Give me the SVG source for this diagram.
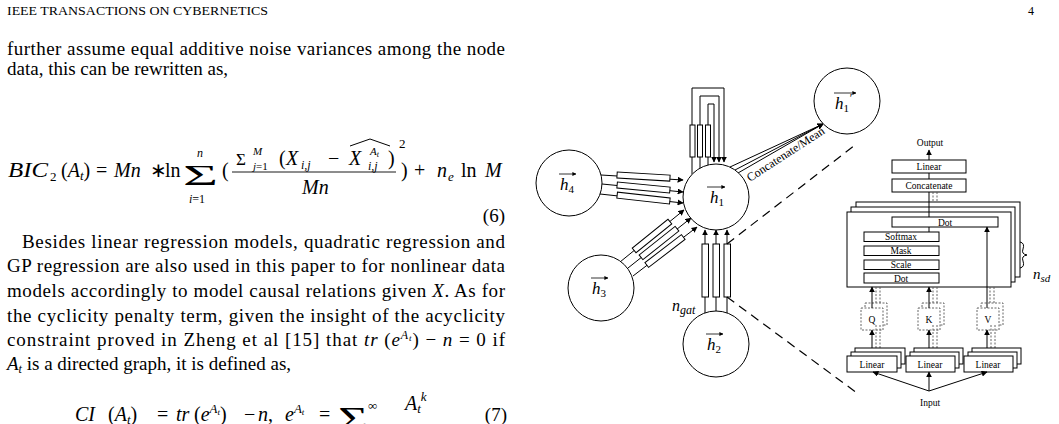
<svg xmlns="http://www.w3.org/2000/svg" width="1059" height="424" viewBox="0 0 1059 424">
<style>
text{font-family:"Liberation Serif","Times New Roman",serif;fill:#000}
.b{font-size:19px}
.m{font-size:20px}
.i{font-style:italic}
.hd{font-size:12px}
.lb{font-size:9.5px;text-anchor:middle}
.ln{stroke:#000;stroke-width:1;fill:none}
.bx{stroke:#000;stroke-width:1;fill:#fff}
.db{stroke:#555;stroke-width:0.9;fill:#fff;stroke-dasharray:2 1.5}
.dl{stroke:#555;stroke-width:0.9;fill:none;stroke-dasharray:2 1.5}
.dash{stroke:#000;stroke-width:1.2;fill:none;stroke-dasharray:9 6}
.nd{stroke:#000;stroke-width:1;fill:#fff}
.hl{font-size:17px;font-style:italic}
</style>
<defs>
<marker id="ah" viewBox="0 0 10 10" refX="9" refY="5" markerWidth="6" markerHeight="6" markerUnits="userSpaceOnUse" orient="auto"><path d="M0,0 L10,5 L0,10 z" fill="#000"/></marker>
<marker id="va" viewBox="0 0 10 10" refX="9" refY="5" markerWidth="4" markerHeight="4" markerUnits="userSpaceOnUse" orient="auto"><path d="M0,0 L10,5 L0,10 z" fill="#000"/></marker>
</defs>
<rect width="1059" height="424" fill="#fff"/>

<g id="page-text">
<text x="7" y="15" class="hd" textLength="261" lengthAdjust="spacingAndGlyphs">IEEE TRANSACTIONS ON CYBERNETICS</text>
<text x="1028" y="15" class="hd">4</text>
<text x="7" y="55" class="b" textLength="498" lengthAdjust="spacing">further assume equal additive noise variances among the node</text>
<text x="7" y="75" class="b">data, this can be rewritten as,</text>

<text x="8" y="177" class="m i" textLength="40" lengthAdjust="spacingAndGlyphs">BIC</text>
<text x="50" y="181" font-size="13">2</text>
<text x="61" y="177" class="m">(<tspan class="i">A</tspan><tspan font-size="13" dy="3" class="i">t</tspan><tspan dy="-3">)</tspan></text>
<text x="96" y="177" class="m">=</text>
<text x="114" y="177" class="m i">Mn</text>
<text x="150" y="177" class="m">∗</text>
<text x="165" y="177" class="m">ln</text>
<text x="183" y="185" font-size="30" textLength="35" lengthAdjust="spacingAndGlyphs">Σ</text>
<text x="197" y="157" font-size="12" class="i">n</text>
<text x="189" y="203" font-size="12"><tspan class="i">i</tspan>=1</text>
<text x="222" y="177" class="m">(</text>
<text x="236" y="165" font-size="17">Σ</text>
<text x="253" y="155" font-size="11" class="i">M</text>
<text x="253" y="170" font-size="11"><tspan class="i">j</tspan>=1</text>
<text x="279" y="165" class="m">(</text>
<text x="286" y="165" class="m i">X</text>
<text x="301" y="169" font-size="12" class="i">i,j</text>
<text x="328" y="165" class="m">−</text>
<text x="349" y="165" class="m i">X</text>
<text x="370" y="155" font-size="11" class="i">A<tspan font-size="8" dy="2">t</tspan></text>
<text x="368" y="170" font-size="12" class="i">i,j</text>
<text x="388" y="165" class="m">)</text>
<path d="M350,146 L370,139 L390,146" class="ln" stroke-width="0.9"/>
<text x="399" y="148" font-size="13">2</text>
<line x1="232" y1="172" x2="396" y2="172" stroke="#000" stroke-width="0.9"/>
<text x="302" y="194" class="m i">Mn</text>
<text x="401" y="177" class="m">)</text>
<text x="414" y="177" class="m">+</text>
<text x="437" y="177" class="m i">n</text>
<text x="448" y="181" font-size="13" class="i">e</text>
<text x="461" y="177" class="m">ln</text>
<text x="485" y="177" class="m i">M</text>
<text x="505" y="222" class="b" text-anchor="end">(6)</text>

<text x="22" y="248" class="b" textLength="483" lengthAdjust="spacing">Besides linear regression models, quadratic regression and</text>
<text x="7" y="272" class="b" textLength="498" lengthAdjust="spacing">GP regression are also used in this paper to for nonlinear data</text>
<text x="7" y="297" class="b" textLength="498" lengthAdjust="spacing">models accordingly to model causal relations given <tspan class="i">X</tspan>. As for</text>
<text x="7" y="322" class="b" textLength="498" lengthAdjust="spacing">the cyclicity penalty term, given the insight of the acyclicity</text>
<text x="7" y="346" class="b" textLength="498" lengthAdjust="spacing">constraint proved in Zheng et al [15] that <tspan class="i">tr</tspan> (<tspan class="i">e</tspan><tspan font-size="12" dy="-7" class="i">A</tspan><tspan font-size="9" dy="2" class="i">t</tspan><tspan dy="5">) − </tspan><tspan class="i">n</tspan> = 0 if</text>
<text x="7" y="370" class="b"><tspan class="i">A</tspan><tspan font-size="12" dy="3" class="i">t</tspan><tspan dy="-3"> is a directed graph, it is defined as,</tspan></text>

<text x="75" y="421" class="m i">CI</text>
<text x="108" y="421" class="m">(<tspan class="i">A</tspan><tspan font-size="13" dy="3" class="i">t</tspan><tspan dy="-3">)</tspan></text>
<text x="157" y="421" class="m">=</text>
<text x="176" y="421" class="m i">tr</text>
<text x="194" y="421" class="m">(<tspan class="i">e</tspan><tspan font-size="13" dy="-8" class="i">A</tspan><tspan font-size="9" dy="2" class="i">t</tspan><tspan dy="6">)</tspan></text>
<text x="244" y="421" class="m">−</text>
<text x="258" y="421" class="m"><tspan class="i">n</tspan>,</text>
<text x="285" y="421" class="m i">e<tspan font-size="13" dy="-8">A</tspan><tspan font-size="9" dy="2">t</tspan></text>
<text x="319" y="421" class="m">=</text>
<text x="338" y="430" font-size="34" textLength="30" lengthAdjust="spacingAndGlyphs">Σ</text>
<text x="368" y="410" font-size="13">∞</text>
<text x="405" y="410" class="m i">A<tspan font-size="13" dy="3">t</tspan><tspan font-size="13" dy="-12">k</tspan></text>
<text x="507" y="421" class="b" text-anchor="end">(7)</text>
</g>

<g id="connectors">
<path d="M692,174 V88 H724 V162" class="ln" marker-end="url(#ah)"/>
<path d="M700,168 V96 H719 V162" class="ln" marker-end="url(#ah)"/>
<path d="M708,165 V104 H714 V162" class="ln" marker-end="url(#ah)"/>
<rect x="690" y="125" width="5" height="32" class="bx"/>
<rect x="697.5" y="125" width="5" height="32" class="bx"/>
<rect x="705.5" y="125" width="5" height="32" class="bx"/>
<path d="M601,175 L683,180" class="ln" marker-end="url(#ah)"/>
<path d="M602,184 L683,192" class="ln" marker-end="url(#ah)"/>
<path d="M600,194 L683,203" class="ln" marker-end="url(#ah)"/>
<rect x="617" y="-3" width="53" height="6" class="bx" transform="translate(0,176.5) rotate(3.5 643 0)"/>
<rect x="617" y="-3" width="53" height="6" class="bx" transform="translate(0,187.5) rotate(5.5 643 0)"/>
<rect x="617" y="-3" width="53" height="6" class="bx" transform="translate(0,198) rotate(6.3 643 0)"/>
<path d="M620,262 L684,210" class="ln" marker-end="url(#ah)"/>
<path d="M628,268 L691,218" class="ln" marker-end="url(#ah)"/>
<path d="M633,276 L697,227" class="ln" marker-end="url(#ah)"/>
<rect x="-23" y="-3" width="46" height="6" class="bx" transform="translate(652,236) rotate(-39)"/>
<rect x="-23" y="-3" width="46" height="6" class="bx" transform="translate(659,243) rotate(-38.5)"/>
<rect x="-23" y="-3" width="46" height="6" class="bx" transform="translate(665,251) rotate(-37.5)"/>
<path d="M705,313 V230" class="ln" marker-end="url(#ah)"/>
<path d="M716,311 V230" class="ln" marker-end="url(#ah)"/>
<path d="M727,313 V230" class="ln" marker-end="url(#ah)"/>
<rect x="702" y="244" width="6.5" height="53" class="bx"/>
<rect x="713" y="244" width="6.5" height="53" class="bx"/>
<rect x="724" y="244" width="6.5" height="53" class="bx"/>
<text x="672" y="311" font-size="16" class="i">n<tspan font-size="12" dy="3">gat</tspan></text>
<path d="M730,167 L823,124" class="ln" marker-end="url(#ah)"/>
<path d="M735,170 L823,124" class="ln" marker-end="url(#ah)"/>
<path d="M738,173 L823,124" class="ln" marker-end="url(#ah)"/>
<text x="0" y="0" font-size="12" transform="translate(750,182) rotate(-33)">Concatenate/Mean</text>
<path d="M727,244 L855,145" class="dash"/>
<path d="M727,297 L857,393" class="dash"/>
</g>

<g id="node-h1">
<circle cx="716" cy="197" r="33" class="nd"/>
<text x="710" y="203" class="hl">h<tspan font-size="11" dy="3" font-style="normal">1</tspan></text>
<line x1="707" y1="187" x2="725" y2="187" stroke="#000" stroke-width="0.8" marker-end="url(#va)"/>
</g>
<g id="node-h1p">
<circle cx="847" cy="101" r="33" class="nd"/>
<text x="835" y="109" class="hl">h<tspan font-size="11" dy="3" font-style="normal">1</tspan><tspan dy="-10" font-size="12">′</tspan></text>
<line x1="834" y1="93" x2="856" y2="93" stroke="#000" stroke-width="0.8" marker-end="url(#va)"/>
</g>
<g id="node-h4">
<circle cx="569" cy="183" r="33" class="nd"/>
<text x="560" y="190" class="hl">h<tspan font-size="11" dy="3" font-style="normal">4</tspan></text>
<line x1="559" y1="174" x2="576" y2="174" stroke="#000" stroke-width="0.8" marker-end="url(#va)"/>
</g>
<g id="node-h3">
<circle cx="601" cy="288" r="33" class="nd"/>
<text x="592" y="294" class="hl">h<tspan font-size="11" dy="3" font-style="normal">3</tspan></text>
<line x1="591" y1="278" x2="608" y2="278" stroke="#000" stroke-width="0.8" marker-end="url(#va)"/>
</g>
<g id="node-h2">
<circle cx="716" cy="344" r="33" class="nd"/>
<text x="707" y="350" class="hl">h<tspan font-size="11" dy="3" font-style="normal">2</tspan></text>
<line x1="706" y1="334" x2="723" y2="334" stroke="#000" stroke-width="0.8" marker-end="url(#va)"/>
</g>

<g id="attention-block">
<text x="930" y="146" class="lb">Output</text>
<path d="M929,160 V150" class="ln" marker-end="url(#ah)"/>
<rect x="892" y="160" width="74" height="13" class="bx"/>
<text x="929" y="170" class="lb">Linear</text>
<path d="M929,179 V173" class="ln"/>
<rect x="892" y="179" width="74" height="13" class="bx"/>
<text x="929" y="189" class="lb">Concatenate</text>
<path d="M933,192 V202 M937,192 V202" class="dl"/>
<rect x="856" y="202" width="164" height="75" class="bx"/>
<rect x="851" y="207" width="164" height="75" class="bx"/>
<rect x="847" y="212" width="164" height="75" class="bx"/>
<path d="M929,232 V192" class="ln"/>
<rect x="892" y="217" width="106" height="10" class="bx"/>
<text x="945" y="225.5" class="lb" font-size="9">Dot</text>
<rect x="864" y="232" width="75" height="9.5" class="bx"/>
<text x="901" y="240" class="lb" font-size="9">Softmax</text>
<rect x="864" y="246" width="75" height="9.5" class="bx"/>
<text x="901" y="254" class="lb" font-size="9">Mask</text>
<rect x="864" y="260" width="75" height="9.5" class="bx"/>
<text x="901" y="268" class="lb" font-size="9">Scale</text>
<rect x="864" y="273" width="75" height="10" class="bx"/>
<text x="901" y="281.5" class="lb" font-size="9">Dot</text>
<path d="M987,287 V227" class="ln" marker-end="url(#ah)"/>
<path d="M1020,242 q5,1 3,7 q-2,5 4,6 q-6,1 -4,6 q2,6 -3,7" class="ln" stroke-width="0.8"/>
<text x="1033" y="279" font-size="15" class="i">n<tspan font-size="11" dy="3">sd</tspan></text>

<rect x="865" y="303" width="22" height="22" class="db"/>
<rect x="861" y="308" width="22" height="22" class="db"/>
<text x="872" y="323" class="lb" font-size="10">Q</text>
<rect x="922" y="303" width="22" height="22" class="db"/>
<rect x="918" y="308" width="22" height="22" class="db"/>
<text x="929" y="323" class="lb" font-size="10">K</text>
<rect x="981" y="303" width="22" height="22" class="db"/>
<rect x="977" y="308" width="22" height="22" class="db"/>
<text x="988" y="323" class="lb" font-size="10">V</text>
<path d="M872,308 V287" class="ln" marker-end="url(#ah)"/>
<path d="M929,308 V287" class="ln" marker-end="url(#ah)"/>
<path d="M876,303 V287 M880,303 V287 M933,303 V287 M937,303 V287 M990,303 V287 M994,303 V287" class="dl"/>
<path d="M987,308 V287" class="ln"/>
<path d="M872,356 V330" class="ln" marker-end="url(#ah)"/>
<path d="M929,356 V330" class="ln" marker-end="url(#ah)"/>
<path d="M987,356 V330" class="ln" marker-end="url(#ah)"/>
<path d="M876,348 V325 M880,348 V325 M933,348 V325 M937,348 V325 M991,348 V325 M995,348 V325" class="dl"/>

<rect x="855" y="348" width="50" height="16" class="bx"/>
<rect x="851" y="352" width="50" height="16" class="bx"/>
<rect x="847" y="356" width="50" height="16" class="bx"/>
<text x="872" y="368" class="lb" font-size="10">Linear</text>
<rect x="914" y="348" width="49" height="16" class="bx"/>
<rect x="910" y="352" width="49" height="16" class="bx"/>
<rect x="906" y="356" width="49" height="16" class="bx"/>
<text x="930" y="368" class="lb" font-size="10">Linear</text>
<rect x="972" y="348" width="49" height="16" class="bx"/>
<rect x="968" y="352" width="49" height="16" class="bx"/>
<rect x="964" y="356" width="49" height="16" class="bx"/>
<text x="988" y="368" class="lb" font-size="10">Linear</text>
<path d="M929,391 L873,372" class="ln" marker-end="url(#ah)"/>
<path d="M929,391 V372" class="ln" marker-end="url(#ah)"/>
<path d="M929,391 L987,372" class="ln" marker-end="url(#ah)"/>
<text x="930" y="406" class="lb">Input</text>
</g>
</svg>
